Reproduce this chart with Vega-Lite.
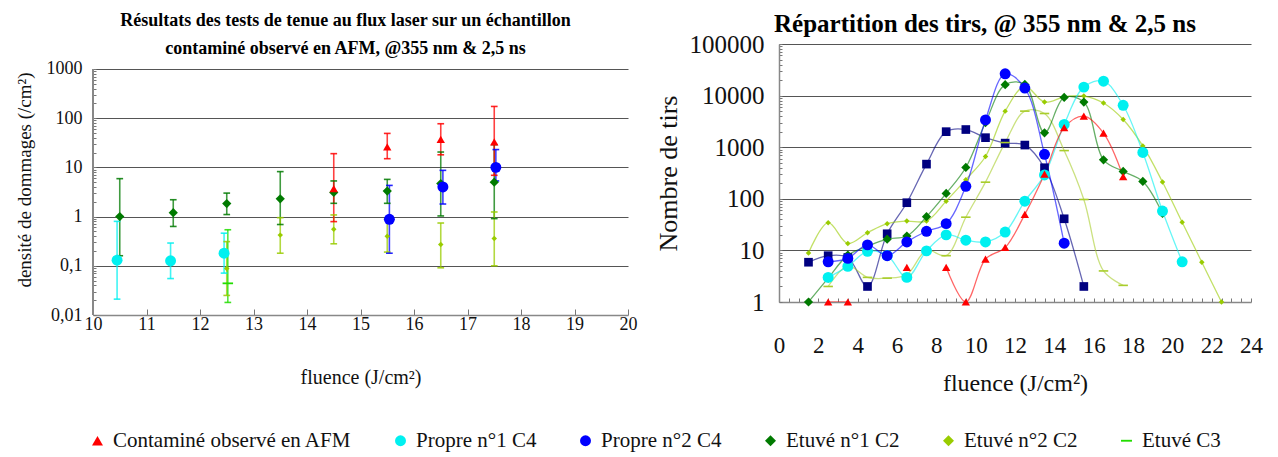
{
  "$schema": "https://vega.github.io/schema/vega-lite/v6.json",
  "background": "white",
  "padding": {"left": 15, "top": 12, "right": 5, "bottom": 5},
  "spacing": 151,
  "bounds": "flush",
  "config": {
    "font": "Liberation Serif",
    "view": {"stroke": null},
    "axis": {
      "labelFont": "Liberation Serif",
      "titleFont": "Liberation Serif",
      "titleFontWeight": "normal",
      "labelColor": "#111",
      "titleColor": "#111",
      "domainColor": "#888",
      "domainWidth": 1.5,
      "tickColor": "#777",
      "gridColor": "#555",
      "labelOverlap": false,
      "labelFlush": false
    },
    "legend": {"labelFont": "Liberation Serif", "titleFont": "Liberation Serif"},
    "title": {"font": "Liberation Serif", "fontWeight": "bold", "color": "#000", "anchor": "middle", "frame": "group"}
  },
  "datasets": {
    "gauche": [
      {"serie": "Etuvé n°1 C2", "x": 10.5, "val": 1.0, "lo": 0.16, "hi": 5.9},
      {"serie": "Etuvé n°1 C2", "x": 11.5, "val": 1.2, "lo": 0.63, "hi": 2.2},
      {"serie": "Etuvé n°1 C2", "x": 12.5, "val": 1.84, "lo": 1.1, "hi": 3.0},
      {"serie": "Etuvé n°1 C2", "x": 13.5, "val": 2.3, "lo": 0.69, "hi": 8.2},
      {"serie": "Etuvé n°1 C2", "x": 14.5, "val": 3.1, "lo": 1.86, "hi": 5.3},
      {"serie": "Etuvé n°1 C2", "x": 15.5, "val": 3.3, "lo": 1.86, "hi": 5.7},
      {"serie": "Etuvé n°1 C2", "x": 16.5, "val": 4.7, "lo": 1.03, "hi": 20.5},
      {"serie": "Etuvé n°1 C2", "x": 17.5, "val": 5.0, "lo": 0.91, "hi": 29},
      {"serie": "Etuvé n°2 C2", "x": 12.5, "val": 0.088, "lo": 0.025, "hi": 0.31},
      {"serie": "Etuvé n°2 C2", "x": 13.5, "val": 0.42, "lo": 0.18, "hi": 0.95},
      {"serie": "Etuvé n°2 C2", "x": 14.5, "val": 0.55, "lo": 0.28, "hi": 1.08},
      {"serie": "Etuvé n°2 C2", "x": 15.5, "val": 0.40, "lo": 0.19, "hi": 0.9},
      {"serie": "Etuvé n°2 C2", "x": 16.5, "val": 0.27, "lo": 0.091, "hi": 0.74},
      {"serie": "Etuvé n°2 C2", "x": 17.5, "val": 0.36, "lo": 0.10, "hi": 1.24},
      {"serie": "Etuvé C3", "x": 12.52, "val": 0.044, "lo": 0.018, "hi": 0.54},
      {"serie": "Propre n°1 C4", "x": 10.45, "val": 0.13, "lo": 0.021, "hi": 0.8},
      {"serie": "Propre n°1 C4", "x": 11.45, "val": 0.126, "lo": 0.055, "hi": 0.29},
      {"serie": "Propre n°1 C4", "x": 12.45, "val": 0.18, "lo": 0.071, "hi": 0.46},
      {"serie": "Contaminé observé en AFM", "x": 14.5, "val": 3.7, "lo": 0.79, "hi": 19},
      {"serie": "Contaminé observé en AFM", "x": 15.5, "val": 26, "lo": 15, "hi": 49},
      {"serie": "Contaminé observé en AFM", "x": 16.5, "val": 37, "lo": 18, "hi": 77},
      {"serie": "Contaminé observé en AFM", "x": 17.5, "val": 33, "lo": 6.9, "hi": 173},
      {"serie": "Propre n°2 C4", "x": 15.54, "val": 0.88, "lo": 0.18, "hi": 4.3},
      {"serie": "Propre n°2 C4", "x": 16.54, "val": 4.0, "lo": 1.8, "hi": 8.7},
      {"serie": "Propre n°2 C4", "x": 17.53, "val": 10, "lo": 5.3, "hi": 23}
    ],
    "droite": [
      {"serie": "Série 7", "seg": 1, "x": 1.5, "n": 5.9},
      {"serie": "Série 7", "seg": 1, "x": 2.5, "n": 7.9},
      {"serie": "Série 7", "seg": 1, "x": 3.5, "n": 7.3},
      {"serie": "Série 7", "seg": 1, "x": 4.5, "n": 2.0},
      {"serie": "Série 7", "seg": 1, "x": 5.5, "n": 21},
      {"serie": "Série 7", "seg": 1, "x": 6.5, "n": 84},
      {"serie": "Série 7", "seg": 1, "x": 7.5, "n": 470},
      {"serie": "Série 7", "seg": 1, "x": 8.5, "n": 2000},
      {"serie": "Série 7", "seg": 1, "x": 9.5, "n": 2200},
      {"serie": "Série 7", "seg": 1, "x": 10.5, "n": 1530},
      {"serie": "Série 7", "seg": 1, "x": 11.5, "n": 1200},
      {"serie": "Série 7", "seg": 1, "x": 12.5, "n": 1100},
      {"serie": "Série 7", "seg": 1, "x": 13.5, "n": 400},
      {"serie": "Série 7", "seg": 1, "x": 14.5, "n": 41},
      {"serie": "Série 7", "seg": 1, "x": 15.5, "n": 2.0},
      {"serie": "Série 8", "seg": 1, "x": 2.5, "n": 2.0},
      {"serie": "Série 8", "seg": 1, "x": 3.5, "n": 5.0},
      {"serie": "Série 8", "seg": 1, "x": 4.5, "n": 3.0},
      {"serie": "Série 8", "seg": 1, "x": 5.5, "n": 2.9},
      {"serie": "Série 8", "seg": 1, "x": 6.5, "n": 3.4},
      {"serie": "Série 8", "seg": 1, "x": 7.5, "n": 10},
      {"serie": "Série 8", "seg": 1, "x": 8.5, "n": 7.9},
      {"serie": "Série 8", "seg": 1, "x": 9.5, "n": 44},
      {"serie": "Série 8", "seg": 1, "x": 10.5, "n": 210},
      {"serie": "Série 8", "seg": 1, "x": 11.5, "n": 1230},
      {"serie": "Série 8", "seg": 1, "x": 12.5, "n": 5000},
      {"serie": "Série 8", "seg": 1, "x": 13.5, "n": 4500},
      {"serie": "Série 8", "seg": 1, "x": 14.5, "n": 860},
      {"serie": "Série 8", "seg": 1, "x": 15.5, "n": 97},
      {"serie": "Série 8", "seg": 1, "x": 16.5, "n": 4.0},
      {"serie": "Série 8", "seg": 1, "x": 17.5, "n": 2.1},
      {"serie": "Etuvé n°2 C2", "seg": 1, "x": 1.5, "n": 8.9},
      {"serie": "Etuvé n°2 C2", "seg": 1, "x": 2.5, "n": 34.5},
      {"serie": "Etuvé n°2 C2", "seg": 1, "x": 3.5, "n": 13.6},
      {"serie": "Etuvé n°2 C2", "seg": 1, "x": 4.5, "n": 22},
      {"serie": "Etuvé n°2 C2", "seg": 1, "x": 5.5, "n": 33},
      {"serie": "Etuvé n°2 C2", "seg": 1, "x": 6.5, "n": 37},
      {"serie": "Etuvé n°2 C2", "seg": 1, "x": 7.5, "n": 37},
      {"serie": "Etuvé n°2 C2", "seg": 1, "x": 8.5, "n": 90},
      {"serie": "Etuvé n°2 C2", "seg": 1, "x": 9.5, "n": 235},
      {"serie": "Etuvé n°2 C2", "seg": 1, "x": 10.5, "n": 660},
      {"serie": "Etuvé n°2 C2", "seg": 1, "x": 11.5, "n": 5000},
      {"serie": "Etuvé n°2 C2", "seg": 1, "x": 12.5, "n": 15000},
      {"serie": "Etuvé n°2 C2", "seg": 1, "x": 13.5, "n": 7500},
      {"serie": "Etuvé n°2 C2", "seg": 1, "x": 14.5, "n": 9400},
      {"serie": "Etuvé n°2 C2", "seg": 1, "x": 15.5, "n": 9800},
      {"serie": "Etuvé n°2 C2", "seg": 1, "x": 16.5, "n": 7200},
      {"serie": "Etuvé n°2 C2", "seg": 1, "x": 17.5, "n": 3450},
      {"serie": "Etuvé n°2 C2", "seg": 1, "x": 18.5, "n": 1060},
      {"serie": "Etuvé n°2 C2", "seg": 1, "x": 19.5, "n": 212},
      {"serie": "Etuvé n°2 C2", "seg": 1, "x": 20.5, "n": 35},
      {"serie": "Etuvé n°2 C2", "seg": 1, "x": 21.5, "n": 5.9},
      {"serie": "Etuvé n°2 C2", "seg": 1, "x": 22.5, "n": 1.0},
      {"serie": "Etuvé n°1 C2", "seg": 1, "x": 1.5, "n": 1.0},
      {"serie": "Etuvé n°1 C2", "seg": 1, "x": 2.5, "n": 2.9},
      {"serie": "Etuvé n°1 C2", "seg": 1, "x": 3.5, "n": 8.1},
      {"serie": "Etuvé n°1 C2", "seg": 1, "x": 4.5, "n": 12},
      {"serie": "Etuvé n°1 C2", "seg": 1, "x": 5.5, "n": 16.5},
      {"serie": "Etuvé n°1 C2", "seg": 1, "x": 6.5, "n": 19},
      {"serie": "Etuvé n°1 C2", "seg": 1, "x": 7.5, "n": 45},
      {"serie": "Etuvé n°1 C2", "seg": 1, "x": 8.5, "n": 127},
      {"serie": "Etuvé n°1 C2", "seg": 1, "x": 9.5, "n": 405},
      {"serie": "Etuvé n°1 C2", "seg": 1, "x": 10.5, "n": 3000},
      {"serie": "Etuvé n°1 C2", "seg": 1, "x": 11.5, "n": 16300},
      {"serie": "Etuvé n°1 C2", "seg": 1, "x": 12.5, "n": 16500},
      {"serie": "Etuvé n°1 C2", "seg": 1, "x": 13.5, "n": 1900},
      {"serie": "Etuvé n°1 C2", "seg": 1, "x": 14.5, "n": 9200},
      {"serie": "Etuvé n°1 C2", "seg": 1, "x": 15.5, "n": 7500},
      {"serie": "Etuvé n°1 C2", "seg": 1, "x": 16.5, "n": 570},
      {"serie": "Etuvé n°1 C2", "seg": 1, "x": 17.5, "n": 340},
      {"serie": "Etuvé n°1 C2", "seg": 1, "x": 18.5, "n": 217},
      {"serie": "Etuvé n°1 C2", "seg": 1, "x": 19.5, "n": 52},
      {"serie": "Propre n°1 C4", "seg": 1, "x": 2.5, "n": 3.0},
      {"serie": "Propre n°1 C4", "seg": 1, "x": 3.5, "n": 4.9},
      {"serie": "Propre n°1 C4", "seg": 1, "x": 4.5, "n": 9.6},
      {"serie": "Propre n°1 C4", "seg": 1, "x": 5.5, "n": 8.0},
      {"serie": "Propre n°1 C4", "seg": 1, "x": 6.5, "n": 3.0},
      {"serie": "Propre n°1 C4", "seg": 1, "x": 7.5, "n": 9.8},
      {"serie": "Propre n°1 C4", "seg": 1, "x": 8.5, "n": 20},
      {"serie": "Propre n°1 C4", "seg": 1, "x": 9.5, "n": 15.8},
      {"serie": "Propre n°1 C4", "seg": 1, "x": 10.5, "n": 14.6},
      {"serie": "Propre n°1 C4", "seg": 1, "x": 11.5, "n": 22.7},
      {"serie": "Propre n°1 C4", "seg": 1, "x": 12.5, "n": 90},
      {"serie": "Propre n°1 C4", "seg": 1, "x": 13.5, "n": 290},
      {"serie": "Propre n°1 C4", "seg": 1, "x": 14.5, "n": 2760},
      {"serie": "Propre n°1 C4", "seg": 1, "x": 15.5, "n": 14600},
      {"serie": "Propre n°1 C4", "seg": 1, "x": 16.5, "n": 19000},
      {"serie": "Propre n°1 C4", "seg": 1, "x": 17.5, "n": 6500},
      {"serie": "Propre n°1 C4", "seg": 1, "x": 18.5, "n": 790},
      {"serie": "Propre n°1 C4", "seg": 1, "x": 19.5, "n": 58},
      {"serie": "Propre n°1 C4", "seg": 1, "x": 20.5, "n": 6.0},
      {"serie": "Contaminé observé en AFM", "seg": 1, "x": 2.5, "n": 1.0},
      {"serie": "Contaminé observé en AFM", "seg": 1, "x": 3.5, "n": 1.0},
      {"serie": "Contaminé observé en AFM", "seg": 2, "x": 6.5, "n": 4.7},
      {"serie": "Contaminé observé en AFM", "seg": 3, "x": 8.5, "n": 4.7},
      {"serie": "Contaminé observé en AFM", "seg": 3, "x": 9.5, "n": 1.0},
      {"serie": "Contaminé observé en AFM", "seg": 3, "x": 10.5, "n": 6.8},
      {"serie": "Contaminé observé en AFM", "seg": 3, "x": 11.5, "n": 11.4},
      {"serie": "Contaminé observé en AFM", "seg": 3, "x": 12.5, "n": 50},
      {"serie": "Contaminé observé en AFM", "seg": 3, "x": 13.5, "n": 300},
      {"serie": "Contaminé observé en AFM", "seg": 3, "x": 14.5, "n": 2400},
      {"serie": "Contaminé observé en AFM", "seg": 3, "x": 15.5, "n": 4000},
      {"serie": "Contaminé observé en AFM", "seg": 3, "x": 16.5, "n": 1870},
      {"serie": "Contaminé observé en AFM", "seg": 3, "x": 17.5, "n": 270},
      {"serie": "Propre n°2 C4", "seg": 1, "x": 2.5, "n": 6.0},
      {"serie": "Propre n°2 C4", "seg": 1, "x": 3.5, "n": 7.0},
      {"serie": "Propre n°2 C4", "seg": 1, "x": 4.5, "n": 12.8},
      {"serie": "Propre n°2 C4", "seg": 1, "x": 5.5, "n": 7.9},
      {"serie": "Propre n°2 C4", "seg": 1, "x": 6.5, "n": 14.6},
      {"serie": "Propre n°2 C4", "seg": 1, "x": 7.5, "n": 23.5},
      {"serie": "Propre n°2 C4", "seg": 1, "x": 8.5, "n": 33},
      {"serie": "Propre n°2 C4", "seg": 1, "x": 9.5, "n": 175},
      {"serie": "Propre n°2 C4", "seg": 1, "x": 10.5, "n": 3380},
      {"serie": "Propre n°2 C4", "seg": 1, "x": 11.5, "n": 26500},
      {"serie": "Propre n°2 C4", "seg": 1, "x": 12.5, "n": 14000},
      {"serie": "Propre n°2 C4", "seg": 1, "x": 13.5, "n": 730},
      {"serie": "Propre n°2 C4", "seg": 1, "x": 14.5, "n": 13.8}
    ]
  },
  "resolve": {
    "scale": {"color": "shared", "shape": "shared", "size": "shared", "stroke": "shared"},
    "legend": {"color": "independent", "shape": "independent"}
  },
  "hconcat": [
    {
      "width": 535,
      "height": 271,
      "title": {
        "text": ["Résultats des tests de tenue au flux laser sur un échantillon", "contaminé observé en AFM, @355 nm & 2,5 ns"],
        "fontSize": 18,
        "lineHeight": 28,
        "offset": -14,
        "dx": -15
      },
      "data": {"name": "gauche"},
      "encoding": {
        "x": {
          "field": "x", "type": "quantitative",
          "scale": {"domain": [10, 20], "nice": false, "zero": false},
          "axis": {
            "title": "fluence (J/cm²)", "titleFontSize": 20, "titlePadding": 34,
            "values": [10, 11, 12, 13, 14, 15, 16, 17, 18, 19, 20],
            "labelFontSize": 18, "labelPadding": 6, "tickSize": -6, "grid": false, "format": "d"
          }
        }
      },
      "layer": [
        {
          "mark": {"type": "rule", "strokeWidth": 1.6, "opacity": 0.75},
          "encoding": {
            "y": {"field": "lo", "type": "quantitative", "scale": {"type": "log", "domain": [0.01, 3214], "nice": false},
              "axis": {
                "title": "densité de dommages (/cm²)", "titleFontSize": 19, "titlePadding": 12,
                "domain": false,
                "values": [0.01,0.02,0.03,0.04,0.05,0.06,0.07,0.08,0.09,0.1,0.2,0.3,0.4,0.5,0.6,0.7,0.8,0.9,1,2,3,4,5,6,7,8,9,10,20,30,40,50,60,70,80,90,100,200,300,400,500,600,700,800,900,1000],
                "labelExpr": "abs(log(datum.value)/LN10 - round(log(datum.value)/LN10)) < 0.001 ? (datum.value >= 1 ? format(datum.value, 'd') : replace(format(datum.value, '.2~f'), '.', ',')) : ''",
                "labelFontSize": 18, "labelPadding": 14, "tickSize": -3,
                "grid": true,
                "gridOpacity": {"condition": {"test": "abs(log(datum.value)/LN10 - round(log(datum.value)/LN10)) < 0.001 && datum.value > 0.011", "value": 1}, "value": 0}
              }},
            "y2": {"field": "hi"},
            "stroke": {"field": "serie", "type": "nominal", "legend": null,
              "scale": {"domain": ["Série 8", "Série 7", "Etuvé C3", "Etuvé n°2 C2", "Etuvé n°1 C2", "Propre n°2 C4", "Propre n°1 C4", "Contaminé observé en AFM"],
                "range": ["#a9cd2c", "#000080", "#22dd00", "#99cc00", "#007a00", "#0000ff", "#00f0f0", "#ff0000"]}}
          }
        },
        {
          "mark": {"type": "rule", "color": "#888", "strokeWidth": 1.5},
          "encoding": {
            "x": {"datum": 10, "type": "quantitative"},
            "y": {"datum": 0.01, "type": "quantitative", "scale": {"type": "log", "domain": [0.01, 3214], "nice": false}},
            "y2": {"datum": 1000}
          }
        },
        {
          "mark": {"type": "point", "shape": "stroke", "filled": false, "size": 45, "strokeWidth": 1.6, "opacity": 0.85},
          "encoding": {
            "y": {"field": "lo", "type": "quantitative", "scale": {"type": "log", "domain": [0.01, 3214], "nice": false}},
            "stroke": {"field": "serie", "type": "nominal", "legend": null}
          }
        },
        {
          "mark": {"type": "point", "shape": "stroke", "filled": false, "size": 45, "strokeWidth": 1.6, "opacity": 0.85},
          "encoding": {
            "y": {"field": "hi", "type": "quantitative", "scale": {"type": "log", "domain": [0.01, 3214], "nice": false}},
            "stroke": {"field": "serie", "type": "nominal", "legend": null}
          }
        },
        {
          "mark": {"type": "point", "filled": true, "opacity": 1, "strokeWidth": 0},
          "encoding": {
            "y": {"field": "val", "type": "quantitative", "scale": {"type": "log", "domain": [0.01, 3214], "nice": false}},
            "color": {"field": "serie", "type": "nominal",
              "scale": {"domain": ["Contaminé observé en AFM", "Propre n°1 C4", "Propre n°2 C4", "Etuvé n°1 C2", "Etuvé n°2 C2", "Etuvé C3", "Série 7", "Série 8"],
                "range": ["#ff0000", "#00f0f0", "#0000ff", "#007a00", "#99cc00", "#22dd00", "#000080", "#a9cd2c"]},
              "legend": {
                "values": ["Contaminé observé en AFM", "Propre n°1 C4", "Propre n°2 C4", "Etuvé n°1 C2", "Etuvé n°2 C2", "Etuvé C3"],
                "title": null, "orient": "none", "direction": "horizontal", "legendX": -6, "legendY": 386,
                "labelFont": "Liberation Serif", "labelFontSize": 21, "labelColor": "#111", "labelLimit": 400,
                "symbolSize": 120, "columnPadding": 38, "labelOffset": 5
              }},
            "shape": {"field": "serie", "type": "nominal",
              "scale": {"domain": ["Contaminé observé en AFM", "Propre n°1 C4", "Propre n°2 C4", "Etuvé n°1 C2", "Etuvé n°2 C2", "Etuvé C3", "Série 7", "Série 8"],
                "range": ["triangle-up", "circle", "circle", "diamond", "diamond", "M-1,-0.17L1,-0.17L1,0.17L-1,0.17Z", "square", "M-1,-0.17L1,-0.17L1,0.17L-1,0.17Z"]},
              "legend": {
                "values": ["Contaminé observé en AFM", "Propre n°1 C4", "Propre n°2 C4", "Etuvé n°1 C2", "Etuvé n°2 C2", "Etuvé C3"],
                "title": null, "orient": "none", "direction": "horizontal", "legendX": -6, "legendY": 386,
                "labelFont": "Liberation Serif", "labelFontSize": 21, "labelColor": "#111", "labelLimit": 400,
                "symbolSize": 120, "columnPadding": 38, "labelOffset": 5
              }},
            "size": {"field": "serie", "type": "nominal", "legend": null,
              "scale": {"type": "ordinal", "domain": ["Série 8", "Série 7", "Etuvé C3", "Etuvé n°2 C2", "Etuvé n°1 C2", "Propre n°2 C4", "Propre n°1 C4", "Contaminé observé en AFM"],
                "range": [90, 75, 110, 30, 85, 120, 120, 70]}}
          }
        }
      ]
    },
    {
      "width": 472,
      "height": 258,
      "title": {"text": "Répartition des tirs,  @ 355 nm & 2,5 ns", "fontSize": 25, "offset": -5, "dx": -30},
      "data": {"name": "droite"},
      "encoding": {
        "x": {
          "field": "x", "type": "quantitative",
          "scale": {"domain": [0, 24], "nice": false, "zero": false},
          "axis": {
            "title": "fluence (J/cm²)", "titleFontSize": 24, "titlePadding": 14,
            "values": [0,0.5,1,1.5,2,2.5,3,3.5,4,4.5,5,5.5,6,6.5,7,7.5,8,8.5,9,9.5,10,10.5,11,11.5,12,12.5,13,13.5,14,14.5,15,15.5,16,16.5,17,17.5,18,18.5,19,19.5,20,20.5,21,21.5,22,22.5,23,23.5,24],
            "labelExpr": "datum.value % 2 == 0 ? format(datum.value, 'd') : ''",
            "labelFontSize": 23, "labelPadding": 36, "tickSize": -4, "grid": false
          }
        },
        "y": {
          "field": "n", "type": "quantitative",
          "scale": {"type": "log", "domain": [1, 100000], "nice": false},
          "axis": {
            "title": "Nombre de tirs", "titleFontSize": 26, "titlePadding": 8,
            "values": [1,2,3,4,5,6,7,8,9,10,20,30,40,50,60,70,80,90,100,200,300,400,500,600,700,800,900,1000,2000,3000,4000,5000,6000,7000,8000,9000,10000,20000,30000,40000,50000,60000,70000,80000,90000,100000],
            "labelExpr": "abs(log(datum.value)/LN10 - round(log(datum.value)/LN10)) < 0.001 ? format(datum.value, 'd') : ''",
            "labelFontSize": 25, "labelPadding": 18, "tickSize": -3,
            "grid": true,
            "gridOpacity": {"condition": {"test": "abs(log(datum.value)/LN10 - round(log(datum.value)/LN10)) < 0.001 && datum.value > 1.5", "value": 1}, "value": 0}
          }
        }
      },
      "layer": [
        {
          "mark": {"type": "line", "interpolate": "catmull-rom", "strokeWidth": 1.3, "opacity": 0.6, "clip": true},
          "encoding": {
            "stroke": {"field": "serie", "type": "nominal", "legend": null,
              "scale": {"domain": ["Série 8", "Série 7", "Etuvé C3", "Etuvé n°2 C2", "Etuvé n°1 C2", "Propre n°2 C4", "Propre n°1 C4", "Contaminé observé en AFM"],
                "range": ["#a9cd2c", "#000080", "#22dd00", "#99cc00", "#007a00", "#0000ff", "#00f0f0", "#ff0000"]}},
            "detail": {"field": "seg"}
          }
        },
        {
          "mark": {"type": "point", "filled": true, "opacity": 1, "strokeWidth": 0, "clip": false},
          "encoding": {
            "color": {"field": "serie", "type": "nominal", "legend": null,
              "scale": {"domain": ["Contaminé observé en AFM", "Propre n°1 C4", "Propre n°2 C4", "Etuvé n°1 C2", "Etuvé n°2 C2", "Etuvé C3", "Série 7", "Série 8"],
                "range": ["#ff0000", "#00f0f0", "#0000ff", "#007a00", "#99cc00", "#22dd00", "#000080", "#a9cd2c"]}},
            "shape": {"field": "serie", "type": "nominal", "legend": null,
              "scale": {"domain": ["Contaminé observé en AFM", "Propre n°1 C4", "Propre n°2 C4", "Etuvé n°1 C2", "Etuvé n°2 C2", "Etuvé C3", "Série 7", "Série 8"],
                "range": ["triangle-up", "circle", "circle", "diamond", "diamond", "M-1,-0.17L1,-0.17L1,0.17L-1,0.17Z", "square", "M-1,-0.17L1,-0.17L1,0.17L-1,0.17Z"]}},
            "size": {"field": "serie", "type": "nominal", "legend": null,
              "scale": {"type": "ordinal", "domain": ["Série 8", "Série 7", "Etuvé C3", "Etuvé n°2 C2", "Etuvé n°1 C2", "Propre n°2 C4", "Propre n°1 C4", "Contaminé observé en AFM"],
                "range": [90, 75, 110, 30, 85, 120, 120, 70]}}
          }
        }
      ]
    }
  ]
}
